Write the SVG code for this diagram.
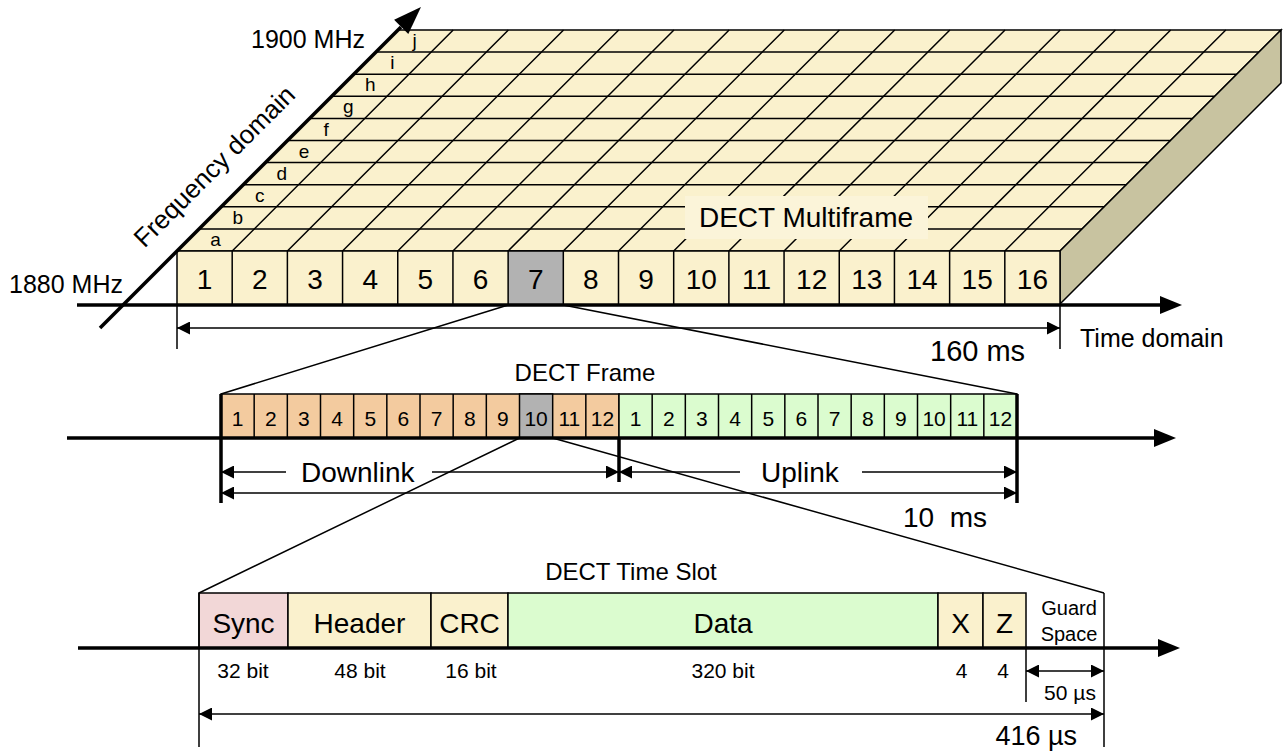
<svg xmlns="http://www.w3.org/2000/svg" width="1283" height="753" viewBox="0 0 1283 753">
<defs>
<marker id="ah" viewBox="0 0 10 10" refX="10" refY="5" markerWidth="15" markerHeight="13" markerUnits="userSpaceOnUse" orient="auto-start-reverse"><path d="M0,0 L10,5 L0,10 z" fill="#000"/></marker>
<style>
text{font-family:"Liberation Sans",Arial,sans-serif;fill:#000}
.c{text-anchor:middle}
.thin{stroke:#000;stroke-width:1.5;fill:none}
.thick{stroke:#000;stroke-width:3.5;fill:none}
.dim{stroke:#000;stroke-width:1.5;fill:none;marker-start:url(#ah);marker-end:url(#ah)}
.dimE{stroke:#000;stroke-width:1.5;fill:none;marker-end:url(#ah)}
.dimS{stroke:#000;stroke-width:1.5;fill:none;marker-start:url(#ah)}
.cell{stroke:#000;stroke-width:1.5}
.yel{fill:#FAF1CD}
.gry{fill:#B2B2B2}
.org{fill:#F3CB9F}
.grn{fill:#DBFCCF}
.pnk{fill:#F2D7D7}
.mf{font-size:28px}
.fr{font-size:21px}
.sl{font-size:28px}
.sm{font-size:21px}
</style>
</defs>

<g id="multiframe">
<polygon points="177,251 1060,251 1281,30 398,30" fill="#FAF1CD" stroke="#000" stroke-width="1.5"/>
<polygon points="1060,251 1281,30 1281,83 1060,304" fill="#C8C3A0" stroke="#000" stroke-width="1.5"/>
<g transform="translate(251,0) skewX(-45)" stroke="#000" stroke-width="1.5">
<path vector-effect="non-scaling-stroke" d="M177,228.9H1060M177,206.8H1060M177,184.7H1060M177,162.6H1060M177,140.5H1060M177,118.4H1060M177,96.3H1060M177,74.2H1060M177,52.1H1060"/>
<path vector-effect="non-scaling-stroke" d="M232.19,30V251M287.38,30V251M342.56,30V251M397.75,30V251M452.94,30V251M508.13,30V251M563.31,30V251M618.5,30V251M673.69,30V251M728.88,30V251M784.06,30V251M839.25,30V251M894.44,30V251M949.63,30V251M1004.81,30V251"/>
</g>
<rect x="685" y="196" width="243" height="43" fill="#FBF4D9"/>
<text class="c" x="806" y="227" font-size="28">DECT Multiframe</text>
<g font-size="19" class="c">
<text x="215.6" y="246">a</text>
<text x="237.7" y="224">b</text>
<text x="259.8" y="202">c</text>
<text x="281.9" y="180">d</text>
<text x="304" y="158">e</text>
<text x="326.1" y="136">f</text>
<text x="348.2" y="113">g</text>
<text x="370.3" y="91">h</text>
<text x="392.4" y="69">i</text>
<text x="414.5" y="47">j</text>
</g>
</g>

<g id="multiframe-slots">
<rect class="cell yel" x="177" y="251" width="883" height="54"/>
<rect class="cell gry" x="508.13" y="251" width="55.18" height="54"/>
<path class="thin" d="M232.19,251V305M287.38,251V305M342.56,251V305M397.75,251V305M452.94,251V305M618.5,251V305M673.69,251V305M728.88,251V305M784.06,251V305M839.25,251V305M894.44,251V305M949.63,251V305M1004.81,251V305"/>
<g class="c mf">
<text x="204.6" y="289">1</text><text x="259.8" y="289">2</text><text x="315" y="289">3</text><text x="370.2" y="289">4</text>
<text x="425.3" y="289">5</text><text x="480.5" y="289">6</text><text x="535.7" y="289">7</text><text x="590.9" y="289">8</text>
<text x="646.1" y="289">9</text><text x="701.3" y="289">10</text><text x="756.5" y="289">11</text><text x="811.7" y="289">12</text>
<text x="866.8" y="289">13</text><text x="922" y="289">14</text><text x="977.2" y="289">15</text><text x="1032.4" y="289">16</text>
</g>
</g>

<g id="frame">
<rect class="cell org" x="221" y="394" width="398" height="44"/>
<rect class="cell gry" x="519.5" y="394" width="33.17" height="44"/>
<rect class="cell grn" x="619" y="394" width="398" height="44"/>
<path class="thin" d="M254.17,394V438M287.33,394V438M320.5,394V438M353.67,394V438M386.83,394V438M420,394V438M453.17,394V438M486.33,394V438M585.83,394V438M652.17,394V438M685.33,394V438M718.5,394V438M751.67,394V438M784.83,394V438M818,394V438M851.17,394V438M884.33,394V438M917.5,394V438M950.67,394V438M983.83,394V438"/>
<g class="c fr">
<text x="237.6" y="426">1</text><text x="270.8" y="426">2</text><text x="303.9" y="426">3</text><text x="337.1" y="426">4</text>
<text x="370.3" y="426">5</text><text x="403.4" y="426">6</text><text x="436.6" y="426">7</text><text x="469.8" y="426">8</text>
<text x="502.9" y="426">9</text><text x="536.1" y="426">10</text><text x="569.3" y="426">11</text><text x="602.4" y="426">12</text>
<text x="635.6" y="426">1</text><text x="668.8" y="426">2</text><text x="701.9" y="426">3</text><text x="735.1" y="426">4</text>
<text x="768.3" y="426">5</text><text x="801.4" y="426">6</text><text x="834.6" y="426">7</text><text x="867.8" y="426">8</text>
<text x="900.9" y="426">9</text><text x="934.1" y="426">10</text><text x="967.3" y="426">11</text><text x="1000.4" y="426">12</text>
</g>
<text class="c" x="585" y="381" font-size="24">DECT Frame</text>
</g>

<g id="timeslot">
<rect class="cell pnk" x="199" y="593" width="89" height="55"/>
<rect class="cell yel" x="288" y="593" width="143" height="55"/>
<rect class="cell yel" x="431" y="593" width="77" height="55"/>
<rect class="cell grn" x="508" y="593" width="430" height="55"/>
<rect class="cell yel" x="938" y="593" width="45" height="55"/>
<rect class="cell yel" x="983" y="593" width="43" height="55"/>
<g class="c sl">
<text x="243.5" y="633">Sync</text><text x="359.5" y="633">Header</text><text x="469.5" y="633">CRC</text>
<text x="723" y="633">Data</text><text x="960.5" y="633">X</text><text x="1004.5" y="633">Z</text>
</g>
<text class="c" x="1069" y="615" font-size="20">Guard</text>
<text class="c" x="1069" y="641" font-size="20">Space</text>
<text class="c" x="631" y="580" font-size="24">DECT Time Slot</text>
<g class="c sm">
<text x="243" y="678">32 bit</text><text x="360" y="678">48 bit</text><text x="471" y="678">16 bit</text>
<text x="723" y="678">320 bit</text><text x="961.5" y="678">4</text><text x="1003" y="678">4</text>
</g>
</g>

<g id="labels">
<text x="9" y="293" font-size="25">1880 MHz</text>
<text x="251" y="48" font-size="25">1900 MHz</text>
<text class="c" transform="rotate(-45 215 167)" x="215" y="175" font-size="26">Frequency domain</text>
<text x="1080" y="347" font-size="25">Time domain</text>
<text x="930" y="361" font-size="29">160 ms</text>
<text x="903" y="527" font-size="28" xml:space="preserve">10  ms</text>
<text x="301" y="482" font-size="28">Downlink</text>
<text x="761" y="482" font-size="28">Uplink</text>
<text x="1070" y="700" font-size="21" class="c">50 µs</text>
<text x="1077" y="745" font-size="27" text-anchor="end">416 µs</text>
</g>

<g id="connectors">
<line class="thick" x1="100" y1="328" x2="401" y2="27" stroke-width="4"/>
<polygon points="421,7 408.3,33.9 394.1,19.7" fill="#000"/>
<line class="thick" x1="77" y1="305" x2="1162" y2="305"/>
<polygon points="1160,296 1182,305 1160,314" fill="#000"/>
<path class="thin" d="M177,305V349M1060,305V349"/>
<line class="dim" x1="177" y1="328" x2="1060" y2="328"/>
<path class="thin" d="M508.13,305L221,394M563.31,305L1017,394"/>
<line class="thick" x1="67" y1="438" x2="1156" y2="438"/>
<polygon points="1154,429 1176,438 1154,447" fill="#000"/>
<path class="thick" d="M221,394V503M1017,394V503M619,438V482"/>
<line class="dimS" x1="221" y1="472" x2="286" y2="472"/>
<line class="dimE" x1="432" y1="472" x2="619" y2="472"/>
<line class="dimS" x1="619" y1="472" x2="740" y2="472"/>
<line class="dimE" x1="862" y1="472" x2="1017" y2="472"/>
<line class="dim" x1="221" y1="493" x2="1017" y2="493"/>
<path class="thin" d="M519.5,438L199,593M552.67,438L1104,593"/>
<line class="thick" x1="78" y1="648" x2="1160" y2="648"/>
<polygon points="1158,639 1180,648 1158,657" fill="#000"/>
<path class="thin" d="M199,593V747M1104,593V747M1026,648V702"/>
<line class="dim" x1="1026" y1="671" x2="1104" y2="671"/>
<line class="dim" x1="199" y1="714" x2="1104" y2="714"/>
</g>
</svg>
